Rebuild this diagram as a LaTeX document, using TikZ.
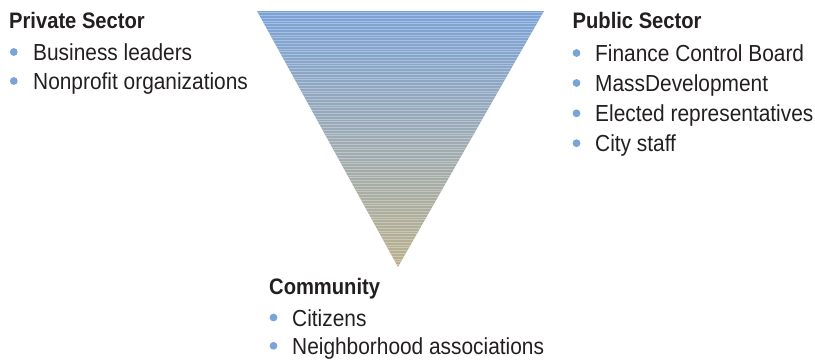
\documentclass[tikz,border=0pt]{standalone}
\usepackage{fontspec}
\setmainfont[FakeStretch=0.9]{Liberation Sans}
\definecolor{txt}{HTML}{231F20}
\definecolor{dotblue}{HTML}{7AA3D6}
\definecolor{topblue}{HTML}{7BA3D8}
\definecolor{midgrey}{HTML}{9DABB4}
\definecolor{bottan}{HTML}{BAB18D}
\begin{document}
\begin{tikzpicture}[x=1pt,y=-1pt,
  head/.style={anchor=base west,inner sep=0pt,text=txt,font=\fontsize{22.4}{26}\selectfont\bfseries},
  item/.style={anchor=base west,inner sep=0pt,text=txt,font=\fontsize{23.2}{27}\selectfont},
  bul/.style={fill=dotblue,draw=none}]
\useasboundingbox (0,0) rectangle (815,362);
% triangle
\begin{scope}
  \clip (257,11) -- (544,11) -- (398,267) -- cycle;
  \shade[top color=topblue,bottom color=bottan,middle color=midgrey] (250,11) rectangle (550,267);
  \foreach \yy in {12.5,15.3,...,266} {
    \draw[white,opacity=0.3,line width=0.7pt] (250,\yy) -- (550,\yy);
  }
\end{scope}
% Private sector
\node[head] (priv) at (9,28.5) {Private Sector};
\node[item] (priv1) at (33,60.5) {Business leaders};
\node[item] (priv2) at (33,89.5) {Nonprofit organizations};
\fill[bul] (13.8,52) circle (3.9);
\fill[bul] (13.8,81) circle (3.9);
% Public sector
\node[head] (pub) at (572.5,28.3) {Public Sector};
\node[item] (pub1) at (595,61.5) {Finance Control Board};
\node[item] (pub2) at (595,91.5) {MassDevelopment};
\node[item] (pub3) at (595,121.8) {Elected representatives};
\node[item] (pub4) at (595,151.7) {City staff};
\fill[bul] (576.5,53) circle (3.9);
\fill[bul] (576.5,83) circle (3.9);
\fill[bul] (576.5,113.3) circle (3.9);
\fill[bul] (576.5,143.2) circle (3.9);
% Community
\node[head] (com) at (269,294.3) {Community};
\node[item] (com1) at (292,326) {Citizens};
\node[item] (com2) at (292,354.3) {Neighborhood associations};
\fill[bul] (273.5,317.5) circle (3.9);
\fill[bul] (273.5,345.8) circle (3.9);
\end{tikzpicture}
\end{document}
